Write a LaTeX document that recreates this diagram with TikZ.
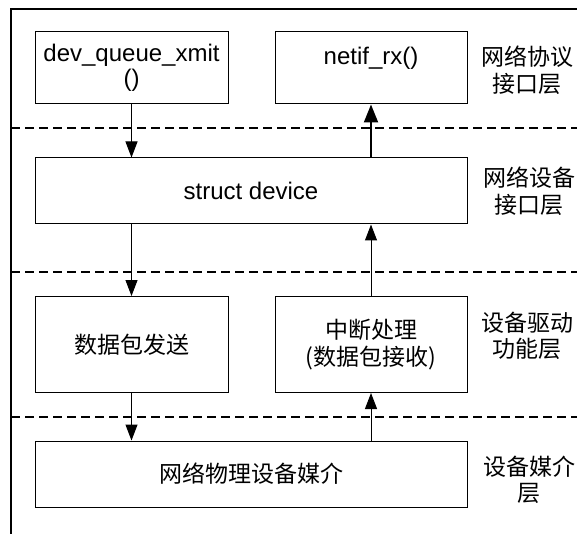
\documentclass[tikz,border=0pt]{standalone}
\usepackage{fontspec}
\setmainfont{Liberation Sans}
\newfontfamily\cjk{Noto Sans CJK SC}
\usetikzlibrary{arrows.meta}
\begin{document}
\begin{tikzpicture}[x=1pt,y=-1pt,
  box/.style={draw=black,line width=1pt,rectangle,inner sep=0pt,align=center,
    font=\fontsize{24}{25}\selectfont},
  cbox/.style={box,font=\cjk\fontsize{23}{27}\selectfont},
  lay/.style={align=center,inner sep=0pt,font=\cjk\fontsize{23}{26.5}\selectfont},
  sep/.style={line width=1.6pt,dash pattern=on 9pt off 5pt},
  arr/.style={line width=1pt,-{Triangle[length=16pt,width=12pt]}},
  tarr/.style={line width=2pt,-{Triangle[length=18pt,width=14pt]}}]
\useasboundingbox (0,0) rectangle (577,534);
% frame
\draw[line width=2pt] (11,534) -- (11,9) -- (577,9);
% separators
\coordinate (s1l) at (11,128); \coordinate (s1r) at (577,128);
\coordinate (s2l) at (11,272); \coordinate (s2r) at (577,272);
\coordinate (s3l) at (11,417); \coordinate (s3r) at (577,417);
\draw[sep] (s1l) -- (s1r);
\draw[sep] (s2l) -- (s2r);
\draw[sep] (s3l) -- (s3r);
% boxes
\node[box,minimum width=193pt,minimum height=72pt] (A) at (131.5,68) {dev\_queue\_xmit\\()};
\node[box,minimum width=192pt,minimum height=72pt] (B) at (371,68) {netif\_rx()\\\mbox{}};
\node[box,minimum width=432pt,minimum height=66pt] (C) at (251,191) {struct device};
\node[cbox,minimum width=193pt,minimum height=96pt] (D) at (131.5,344.5) {数据包发送};
\node[cbox,minimum width=192pt,minimum height=96pt] (E) at (371,344.5) {中断处理\\(数据包接收)};
\node[cbox,minimum width=432pt,minimum height=66pt] (F) at (251,474) {网络物理设备媒介};
% layer labels
\node[lay] (L1) at (527,70) {网络协议\\接口层};
\node[lay] (L2) at (529,191) {网络设备\\接口层};
\node[lay] (L3) at (527,336) {设备驱动\\功能层};
\node[lay] (L4) at (529,480) {设备媒介\\层};
% arrows
\draw[arr] (A.south) -- (A.south |- C.north);
\draw[tarr] (B.south |- C.north) -- (B.south);
\draw[arr] (A.south |- C.south) -- (D.north);
\draw[arr] (E.north) -- (E.north |- C.south);
\draw[arr] (D.south) -- (D.south |- F.north);
\draw[arr] (E.south |- F.north) -- (E.south);
\end{tikzpicture}
\end{document}
